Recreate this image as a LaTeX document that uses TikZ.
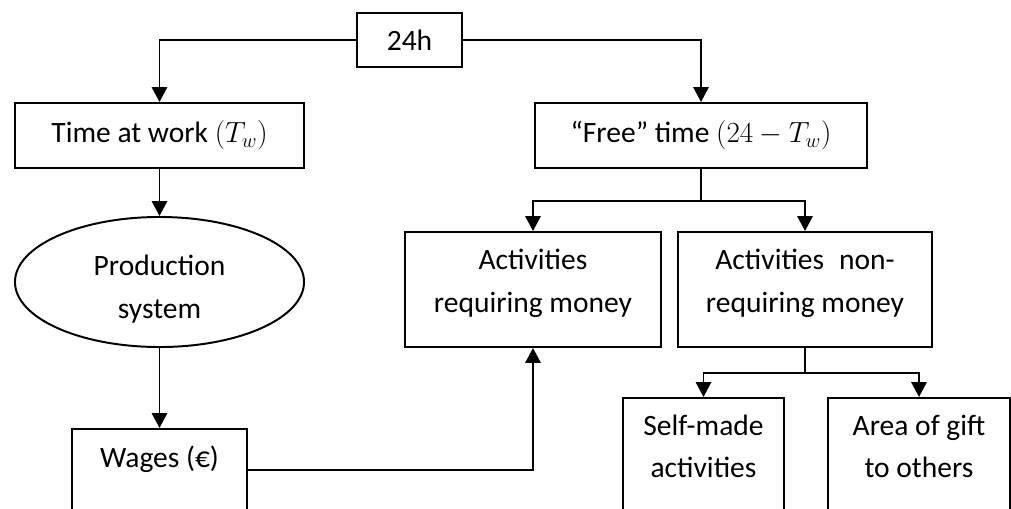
\documentclass[tikz,border=0pt]{standalone}
\usepackage{fontspec}
\setmainfont{Carlito}
\usepackage{tikz}
\usetikzlibrary{arrows.meta,positioning,shapes.geometric,calc}
\definecolor{ink}{HTML}{000000}
\tikzset{
  box/.style={draw=ink,line width=1.4pt,rectangle,align=center,inner sep=4pt,
              font=\fontsize{21}{30}\selectfont},
  cutbox/.style={box,anchor=north,inner ysep=0.42cm,text depth=3cm},
  oval/.style={box,ellipse,inner sep=0pt},
  downarr/.style={-{Triangle[length=3.7mm,width=3.8mm]},line width=1.4pt,
                  draw=ink}
}

\begin{document}
\begin{tikzpicture}[x=0.025cm,y=-0.025cm]
    \clip (0,0) rectangle (1011,508);
    \node[box,minimum width=2.625cm,minimum height=1.35cm] (hours) at (409.5,40) {24h};
    \node[box,minimum width=7.225cm,minimum height=1.625cm] (work) at (159.5,135.5)
      {Time at work $(T_w)$};
    \node[box,minimum width=8.3cm,minimum height=1.625cm] (free) at (701,135.5)
      {“Free” time $(24-T_w)$};
    \node[oval,minimum width=7.225cm,minimum height=3.25cm,
          text height=1.925cm,text depth=0.125cm] (prod) at (159.5,282)
      {Production\\system};
    \node[cutbox,minimum width=4.375cm] (wages) at (159.5,428)
      {Wages (€)};
    \node[box,minimum width=6.4cm,minimum height=2.875cm,
          text height=1.25cm,text depth=0.125cm] (money) at (533,289.5)
      {Activities\\requiring money};
    \node[box,minimum width=6.35cm,minimum height=2.875cm,
          text height=1.25cm,text depth=0.125cm] (nomoney) at (805,289.5)
      {Activities\enspace non-\\requiring money};
    \node[cutbox,minimum width=4.025cm] (self) at (703.5,397)
      {Self-made\\activities};
    \node[cutbox,minimum width=4.55cm] (gift) at (919,397)
      {Area of gift\\to others};
    \draw[downarr] (hours.west) -| (work.north);
    \draw[downarr] (hours.east) -| (free.north);
    \draw[downarr] (work.south) -- (prod.north);
    \draw[downarr] (prod.south) -- (wages.north);
    \coordinate (wout) at ($(wages.north east)+(0,42)$);
    \draw[downarr] (wout) -| (money.south);
    \draw[line width=1.4pt,draw=ink] (free.south) -- ++(0,32) coordinate (fsplit);
    \draw[downarr] (fsplit) -| (money.north);
    \draw[downarr] (fsplit) -| (nomoney.north);
    \draw[line width=1.4pt,draw=ink] (nomoney.south) -- ++(0,25) coordinate (nsplit);
    \draw[downarr] (nsplit) -| (self.north);
    \draw[downarr] (nsplit) -| (gift.north);
  \end{tikzpicture}
\end{document}
